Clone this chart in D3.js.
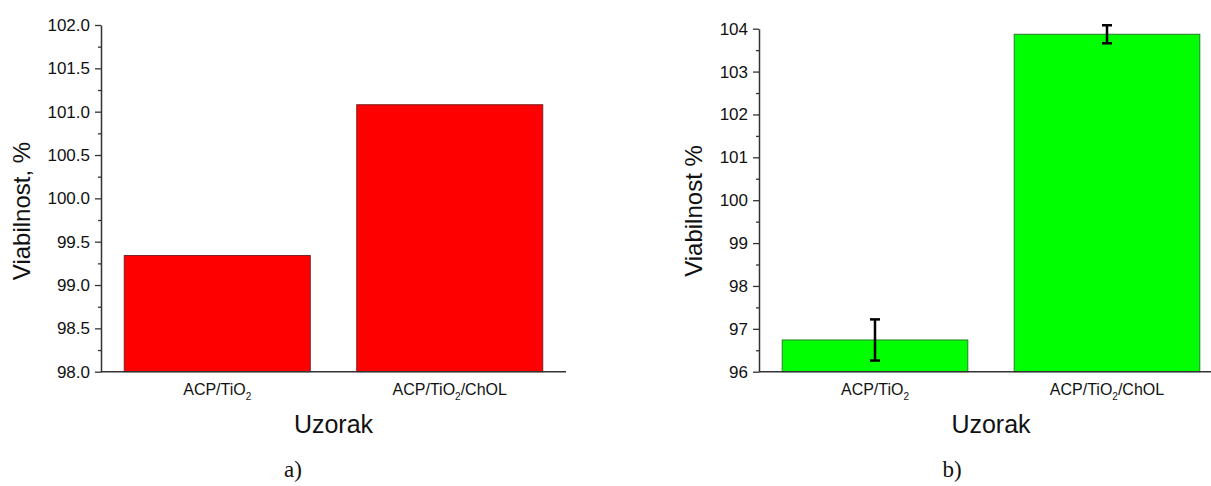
<!DOCTYPE html>
<html>
<head>
<meta charset="utf-8">
<script src="https://cdn.jsdelivr.net/npm/d3@7"></script>
<style>
  html, body { margin: 0; padding: 0; background: #fff; }
  svg { display: block; }
  text { font-family: "Liberation Sans", Arial, sans-serif; fill: #111; }
</style>
</head>
<body>
<svg id="chart" width="1211" height="486"></svg>
<script>
// ---- data ----
const categories = ["ACP/TiO2", "ACP/TiO2/ChOL"];
const valuesA = [99.34, 101.08];
const valuesB = [96.74, 103.87];
const errorsB = [0.48, 0.21];
const ticksA = [98.0, 98.5, 99.0, 99.5, 100.0, 100.5, 101.0, 101.5, 102.0];
const ticksB = [96, 97, 98, 99, 100, 101, 102, 103, 104];

const svg = d3.select("#chart");

function panel(opt) {
  const g = svg.append("g");
  const x = d3.scaleBand().domain(categories).range(opt.xr).paddingInner(0.2).paddingOuter(0.1);
  const y = d3.scaleLinear().domain(opt.domain).range(opt.yr);

  // bars
  g.selectAll("rect.bar").data(opt.values).enter().append("rect")
    .attr("x", (d, i) => x(categories[i]))
    .attr("width", x.bandwidth())
    .attr("y", d => y(d))
    .attr("height", d => y(opt.domain[0]) - y(d))
    .attr("fill", opt.fill)
    .attr("stroke", opt.stroke)
    .attr("stroke-width", 1);

  // error bars
  if (opt.errors) {
    opt.values.forEach((v, i) => {
      const cx = x(categories[i]) + x.bandwidth() / 2;
      const e = opt.errors[i];
      const eg = g.append("g").attr("stroke", "#000").attr("stroke-width", 2.5);
      eg.append("line").attr("x1", cx).attr("x2", cx).attr("y1", y(v + e)).attr("y2", y(v - e));
      eg.append("line").attr("x1", cx - 5).attr("x2", cx + 5).attr("y1", y(v + e)).attr("y2", y(v + e));
      eg.append("line").attr("x1", cx - 5).attr("x2", cx + 5).attr("y1", y(v - e)).attr("y2", y(v - e));
    });
  }

  // minor ticks
  const minor = [];
  for (let i = 0; i < opt.ticks.length - 1; i++) minor.push((opt.ticks[i] + opt.ticks[i + 1]) / 2);
  g.append("g").attr("transform", `translate(${opt.xr[0]},0)`)
    .call(d3.axisLeft(y).tickValues(minor).tickSize(3).tickFormat(""))
    .call(a => a.select(".domain").remove())
    .selectAll("line").attr("stroke", "#333").attr("stroke-width", 1.3);

  // y axis
  const ya = g.append("g").attr("transform", `translate(${opt.xr[0]},0)`)
    .call(d3.axisLeft(y).tickValues(opt.ticks).tickSize(6).tickSizeOuter(0).tickPadding(5).tickFormat(opt.fmt));
  ya.select(".domain").attr("stroke", "#333").attr("stroke-width", 1.5);
  ya.selectAll(".tick line").attr("stroke", "#333").attr("stroke-width", 1.3);
  ya.selectAll(".tick text").style("font-size", "17px").attr("fill", "#111");

  // x axis line
  g.append("line").attr("x1", opt.xr[0]).attr("x2", opt.xr[1])
    .attr("y1", y(opt.domain[0])).attr("y2", y(opt.domain[0]))
    .attr("stroke", "#333").attr("stroke-width", 1.5);

  // category labels with subscript
  categories.forEach(c => {
    const cx = x(c) + x.bandwidth() / 2;
    const t = g.append("text").attr("x", cx).attr("y", 395).attr("text-anchor", "middle").style("font-size", "16px");
    const parts = c.split("2");
    t.append("tspan").text(parts[0]);
    t.append("tspan").text("2").attr("dy", 5).style("font-size", "10px");
    if (parts[1]) t.append("tspan").text(parts[1]).attr("dy", -5);
  });

  // x title
  const mid = (opt.xr[0] + opt.xr[1]) / 2;
  g.append("text").attr("x", mid).attr("y", 433).attr("text-anchor", "middle")
    .style("font-size", "25px").text("Uzorak");

  // y title
  g.append("text").attr("transform", `translate(${opt.ylx},${opt.yly}) rotate(-90)`)
    .attr("text-anchor", "middle").style("font-size", "24px").text(opt.ytitle);

  // panel letter
  g.append("text").attr("x", opt.letterX).attr("y", 477).attr("text-anchor", "middle")
    .style("font-family", "'Liberation Serif', 'Times New Roman', serif")
    .style("font-size", "23px").text(opt.letter);
}

panel({
  xr: [101, 566], yr: [371.7, 25], domain: [98, 102],
  values: valuesA, ticks: ticksA, fmt: d3.format(".1f"),
  fill: "#ff0000", stroke: "#7a2020",
  ytitle: "Viabilnost, %", ylx: 30, yly: 211, letter: "a)", letterX: 293
});

panel({
  xr: [759, 1223], yr: [371.7, 28.7], domain: [96, 104],
  values: valuesB, errors: errorsB, ticks: ticksB, fmt: d3.format("d"),
  fill: "#00ff00", stroke: "#2a7a2a",
  ytitle: "Viabilnost %", ylx: 702, yly: 211, letter: "b)", letterX: 952
});
</script>
</body>
</html>
